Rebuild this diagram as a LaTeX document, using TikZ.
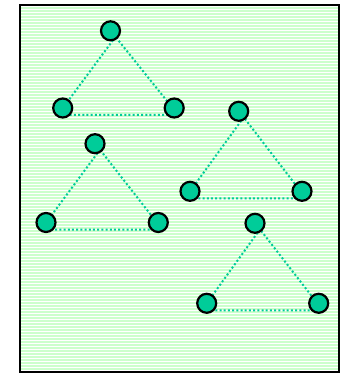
\documentclass[tikz,border=0pt]{standalone}
\usetikzlibrary{calc}
\definecolor{bggreen}{RGB}{204,255,204}
\definecolor{tealdot}{RGB}{0,204,153}
\pgfdeclarelayer{bglayer}
\pgfdeclarelayer{edgelayer}
\pgfsetlayers{bglayer,edgelayer,main}
\begin{document}
\begin{tikzpicture}[x=1pt,y=-1pt,
  dotnode/.style={circle,draw=black,line width=2.2pt,fill=tealdot,minimum size=19pt,inner sep=0pt},
  edgeline/.style={draw=tealdot,line width=2pt,dash pattern=on 2pt off 2.2pt},
  stripe/.style={white,line width=1pt}]
\useasboundingbox (0,0) rectangle (341,374);
\begin{pgfonlayer}{bglayer}
\fill[bggreen] (20,5) rectangle (339,372);
\foreach \y in {7,10,...,370} \draw[stripe] (21,\y) -- (338,\y);
\draw[black,line width=2pt] (20,5) rectangle (339,372);
\end{pgfonlayer}
% triangle 1
\node[dotnode] (t1) at (110.5,30.8) {};
\node[dotnode] (l1) at (62.7,108) {};
\node[dotnode] (r1) at (174.2,108) {};
% triangle 2
\node[dotnode] (t2) at (95,143.7) {};
\node[dotnode] (l2) at (46,222.5) {};
\node[dotnode] (r2) at (158.3,222.5) {};
% triangle 3
\node[dotnode] (t3) at (238.7,111.3) {};
\node[dotnode] (l3) at (190,191.3) {};
\node[dotnode] (r3) at (302,191.3) {};
% triangle 4
\node[dotnode] (t4) at (255,223.3) {};
\node[dotnode] (l4) at (206.7,303.3) {};
\node[dotnode] (r4) at (318.7,303.3) {};
\begin{pgfonlayer}{edgelayer}
\foreach \i in {1,2,3,4}{
  \draw[edgeline] ($(t\i)+(5,6)$) -- ($(l\i)+(-5,7)$) -- ($(r\i)+(4,7)$) -- cycle;
}
\end{pgfonlayer}
\end{tikzpicture}
\end{document}
